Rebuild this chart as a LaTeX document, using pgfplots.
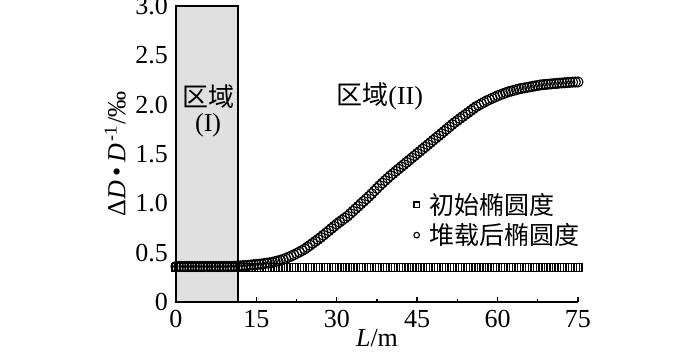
\documentclass[border=0pt]{standalone}
\usepackage{pgfplots}
\pgfplotsset{compat=1.18}
\usepackage{pgfplotstable}
\usepackage{fontspec}
\setmainfont{Liberation Serif}
\newfontfamily\cjk{Noto Sans CJK SC}
\pgfplotstableread{
x sq ci
0 0.35 0.36
0.5 0.35 0.36
1 0.35 0.36
1.5 0.35 0.36
2 0.35 0.36
2.5 0.35 0.36
3 0.35 0.36
3.5 0.35 0.36
4 0.35 0.36
4.5 0.35 0.36
5 0.35 0.36
5.5 0.35 0.36
6 0.35 0.36
6.5 0.35 0.36
7 0.35 0.36
7.5 0.35 0.36
8 0.35 0.36
8.5 0.35 0.36
9 0.35 0.36
9.5 0.35 0.36
10 0.35 0.36
10.5 0.35 0.36
11 0.35 0.362
11.5 0.35 0.364
12 0.35 0.366
12.5 0.35 0.368
13 0.35 0.37
13.5 0.35 0.372
14 0.35 0.375
14.5 0.35 0.378
15 0.35 0.38
15.5 0.35 0.383
16 0.35 0.386
16.5 0.35 0.39
17 0.35 0.394
17.5 0.35 0.398
18 0.35 0.403
18.5 0.35 0.41
19 0.35 0.417
19.5 0.35 0.424
20 0.35 0.432
20.5 0.35 0.443
21 0.35 0.454
21.5 0.35 0.466
22 0.35 0.478
22.5 0.35 0.492
23 0.35 0.506
23.5 0.35 0.521
24 0.35 0.537
24.5 0.35 0.556
25 0.35 0.575
25.5 0.35 0.595
26 0.35 0.615
26.5 0.35 0.635
27 0.35 0.655
27.5 0.35 0.677
28 0.35 0.70
28.5 0.35 0.722
29 0.35 0.745
29.5 0.35 0.767
30 0.35 0.79
30.5 0.35 0.81
31 0.35 0.83
31.5 0.35 0.85
32 0.35 0.87
32.5 0.35 0.895
33 0.35 0.92
33.5 0.35 0.945
34 0.35 0.97
34.5 0.35 0.995
35 0.35 1.02
35.5 0.35 1.045
36 0.35 1.07
36.5 0.35 1.097
37 0.35 1.125
37.5 0.35 1.152
38 0.35 1.18
38.5 0.35 1.205
39 0.35 1.23
39.5 0.35 1.255
40 0.35 1.28
40.5 0.35 1.302
41 0.35 1.325
41.5 0.35 1.347
42 0.35 1.37
42.5 0.35 1.392
43 0.35 1.415
43.5 0.35 1.437
44 0.35 1.46
44.5 0.35 1.482
45 0.35 1.505
45.5 0.35 1.527
46 0.35 1.55
46.5 0.35 1.572
47 0.35 1.595
47.5 0.35 1.617
48 0.35 1.64
48.5 0.35 1.662
49 0.35 1.685
49.5 0.35 1.707
50 0.35 1.73
50.5 0.35 1.752
51 0.35 1.775
51.5 0.35 1.797
52 0.35 1.82
52.5 0.35 1.84
53 0.35 1.86
53.5 0.35 1.88
54 0.35 1.90
54.5 0.35 1.92
55 0.35 1.94
55.5 0.35 1.96
56 0.35 1.98
56.5 0.35 1.995
57 0.35 2.01
57.5 0.35 2.025
58 0.35 2.04
58.5 0.35 2.052
59 0.35 2.065
59.5 0.35 2.077
60 0.35 2.09
60.5 0.35 2.10
61 0.35 2.11
61.5 0.35 2.12
62 0.35 2.13
62.5 0.35 2.137
63 0.35 2.145
63.5 0.35 2.152
64 0.35 2.16
64.5 0.35 2.165
65 0.35 2.17
65.5 0.35 2.175
66 0.35 2.18
66.5 0.35 2.185
67 0.35 2.19
67.5 0.35 2.195
68 0.35 2.20
68.5 0.35 2.203
69 0.35 2.205
69.5 0.35 2.208
70 0.35 2.21
70.5 0.35 2.213
71 0.35 2.215
71.5 0.35 2.218
72 0.35 2.22
72.5 0.35 2.222
73 0.35 2.224
73.5 0.35 2.226
74 0.35 2.228
74.5 0.35 2.229
75 0.35 2.23
}\datatable
\begin{document}
\begin{tikzpicture}
\begin{axis}[
  name=ax,
  scale only axis,
  width=201pt, height=148pt,
  xmin=0, xmax=75, ymin=0, ymax=3,
  axis x line*=bottom, axis y line*=left,
  axis line style={line width=0.9pt, -},
  tick align=inside,
  major tick length=2.5pt, minor tick length=1.5pt,
  tick style={line width=0.7pt, black},
  xtick={0,15,30,45,60,75},
  ytick={0,0.5,1,1.5,2,2.5,3},
  yticklabels={0,0.5,1.0,1.5,2.0,2.5,3.0},
  minor x tick num=1, minor y tick num=1,
  /pgf/number format/assume math mode=true,
  tick label style={font=\fontsize{13}{15}\selectfont},
  xticklabel style={yshift=-0.5pt},
  yticklabel style={xshift=-0.5pt},
  xlabel={\textit{L}/m},
  ylabel={Δ\textit{D}\,•\,\textit{D}\textsuperscript{\,-1}/‰},
  label style={font=\fontsize{13}{15}\selectfont},
  xlabel style={yshift=6pt},
  ylabel style={yshift=-2pt},
  clip=false,
  legend style={draw=none, fill=none, at={(axis cs:44.3,1.15)}, anchor=north west,
    font=\cjk\fontsize{12.5}{15}\selectfont, row sep=-1pt,
    inner sep=0pt},
  legend image post style={mark size=1.4pt},
  legend cell align=left,
]
\addplot[draw=black, fill=black!12, line width=0.9pt] coordinates {(0,0) (0,3) (11.6,3) (11.6,0)} \closedcycle;
\addplot[only marks, mark=square, mark size=2.0pt, mark options={black, fill=white, line width=0.7pt}] table[x=x, y=sq] {\datatable};
\addplot[only marks, mark=o, mark size=2.5pt, mark options={black, fill=white, line width=0.55pt}] table[x=x, y=ci] {\datatable};
\legend{,\hspace{3pt}初始椭圆度,\hspace{3pt}堆载后椭圆度}
\node[font=\cjk\fontsize{13}{15}\selectfont] at (axis cs:6,2.08) {区域};
\node[font=\fontsize{13}{15}\selectfont] at (axis cs:6,1.79) {(I)};
\node[font=\fontsize{13}{15}\selectfont] at (axis cs:38,2.08) {{\cjk 区域}(II)};
\end{axis}
\pgfresetboundingbox
\path ([shift={(-88pt,-25pt)}]ax.south west) rectangle ([shift={(262pt,151pt)}]ax.south west);
\end{tikzpicture}
\end{document}
